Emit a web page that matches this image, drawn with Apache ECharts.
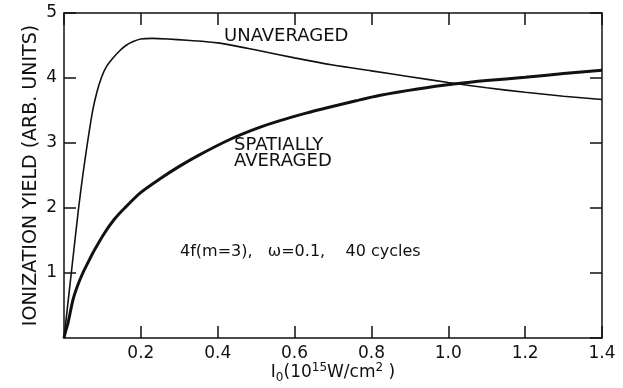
<!DOCTYPE html>
<html>
<head>
<meta charset="utf-8">
<script src="https://cdn.jsdelivr.net/npm/echarts@6/dist/echarts.min.js"></script>
<style>html,body{margin:0;padding:0;background:#fff}#c{width:623px;height:388px}</style>
</head>
<body>
<div id="c"></div>
<script>
// Intensity values (10^15 W/cm^2) and ionization yields (arb. units)
const unavgX = [0, 0.019, 0.038, 0.050, 0.061, 0.074, 0.085, 0.097, 0.110, 0.128, 0.145, 0.161, 0.180, 0.200, 0.230, 0.270, 0.320, 0.400, 0.500, 0.600, 0.700, 0.800, 0.900, 1.000, 1.100, 1.200, 1.300, 1.400];
const unavgY = [0, 1.00, 2.00, 2.55, 3.00, 3.48, 3.77, 4.00, 4.17, 4.31, 4.42, 4.50, 4.56, 4.60, 4.61, 4.60, 4.58, 4.54, 4.43, 4.31, 4.20, 4.11, 4.02, 3.93, 3.85, 3.78, 3.72, 3.67];
const spatX = [0, 0.005, 0.010, 0.023, 0.035, 0.049, 0.065, 0.080, 0.106, 0.130, 0.158, 0.200, 0.250, 0.300, 0.350, 0.430, 0.500, 0.560, 0.630, 0.690, 0.760, 0.820, 0.920, 1.020, 1.100, 1.200, 1.300, 1.400];
const spatY = [0, 0.12, 0.22, 0.58, 0.80, 1.00, 1.19, 1.36, 1.62, 1.82, 2.00, 2.24, 2.45, 2.64, 2.81, 3.05, 3.22, 3.34, 3.46, 3.55, 3.65, 3.73, 3.83, 3.91, 3.96, 4.01, 4.07, 4.12];
const xTicks = [0, 0.2, 0.4, 0.6, 0.8, 1.0, 1.2, 1.4];
const yTicks = [0, 1, 2, 3, 4, 5];

const pair = (xs, ys) => xs.map((x, i) => [x, ys[i]]);
const FONT = '"DejaVu Sans", "Liberation Sans", sans-serif';

const chart = echarts.init(document.getElementById('c'), null, {renderer: 'canvas'});
const axisCommon = () => ({
  axisLine: {show: true, onZero: false, lineStyle: {color: '#111', width: 1.5}},
  axisTick: {show: true, inside: true, length: 12, lineStyle: {color: '#111', width: 1.5}},
  splitLine: {show: false}
});
chart.setOption({
  animation: false,
  backgroundColor: '#fff',
  grid: {left: 64, right: 21, top: 13, bottom: 50, containLabel: false, outerBoundsMode: 'none'},
  xAxis: [
    Object.assign({
      type: 'value', min: xTicks[0], max: xTicks[xTicks.length - 1], interval: 0.2, position: 'bottom',
      axisLabel: {show: true, showMinLabel: false, margin: 7, color: '#111', fontSize: 17, fontFamily: FONT,
        formatter: v => v.toFixed(1)},
      name: '{i|I}{sub|0}{n|(10}{sup|15}{n|W/cm}{sup|2}{n| )}',
      nameLocation: 'middle', nameGap: 24, nameMoveOverlap: false,
      nameTextStyle: {
        color: '#111', fontFamily: FONT, fontSize: 17, lineHeight: 22,
        rich: {
          i: {fontSize: 17, fontFamily: FONT, color: '#111', lineHeight: 22},
          n: {fontSize: 17, fontFamily: FONT, color: '#111', lineHeight: 22},
          sub: {fontSize: 12, fontFamily: FONT, color: '#111', verticalAlign: 'bottom', lineHeight: 22, padding: [8, 0, 0, 0]},
          sup: {fontSize: 12, fontFamily: FONT, color: '#111', verticalAlign: 'top', lineHeight: 22, padding: [0, 0, 8, 0]}
        }
      }
    }, axisCommon()),
    Object.assign({
      type: 'value', min: xTicks[0], max: xTicks[xTicks.length - 1], interval: 0.2, position: 'top',
      axisLabel: {show: false}
    }, axisCommon())
  ],
  yAxis: [
    Object.assign({
      type: 'value', min: yTicks[0], max: yTicks[yTicks.length - 1], interval: 1, position: 'left',
      axisLabel: {show: true, showMinLabel: false, margin: 7, color: '#111', fontSize: 17, fontFamily: FONT},
      name: 'IONIZATION YIELD (ARB. UNITS)',
      nameLocation: 'middle', nameGap: 23, nameMoveOverlap: false,
      nameTextStyle: {color: '#111', fontFamily: FONT, fontSize: 19}
    }, axisCommon()),
    Object.assign({
      type: 'value', min: yTicks[0], max: yTicks[yTicks.length - 1], interval: 1, position: 'right',
      axisLabel: {show: false}
    }, axisCommon())
  ],
  series: [
    {
      name: 'UNAVERAGED', type: 'line', data: pair(unavgX, unavgY),
      smooth: 0.25, showSymbol: false,
      lineStyle: {color: '#111', width: 1.6}
    },
    {
      name: 'SPATIALLY AVERAGED', type: 'line', data: pair(spatX, spatY),
      smooth: 0.25, showSymbol: false,
      lineStyle: {color: '#111', width: 3}
    }
  ],
  graphic: [
    {type: 'text', left: 224, top: 27, style: {text: 'UNAVERAGED', font: '18px ' + FONT, fill: '#111'}},
    {type: 'text', left: 234, top: 136, style: {text: 'SPATIALLY\nAVERAGED', font: '18px ' + FONT, fill: '#111', lineHeight: 16}},
    {type: 'text', left: 180, top: 244, style: {text: '4f(m=3),   \u03c9=0.1,    40 cycles', font: '16px ' + FONT, fill: '#111'}}
  ]
});
</script>
</body>
</html>
